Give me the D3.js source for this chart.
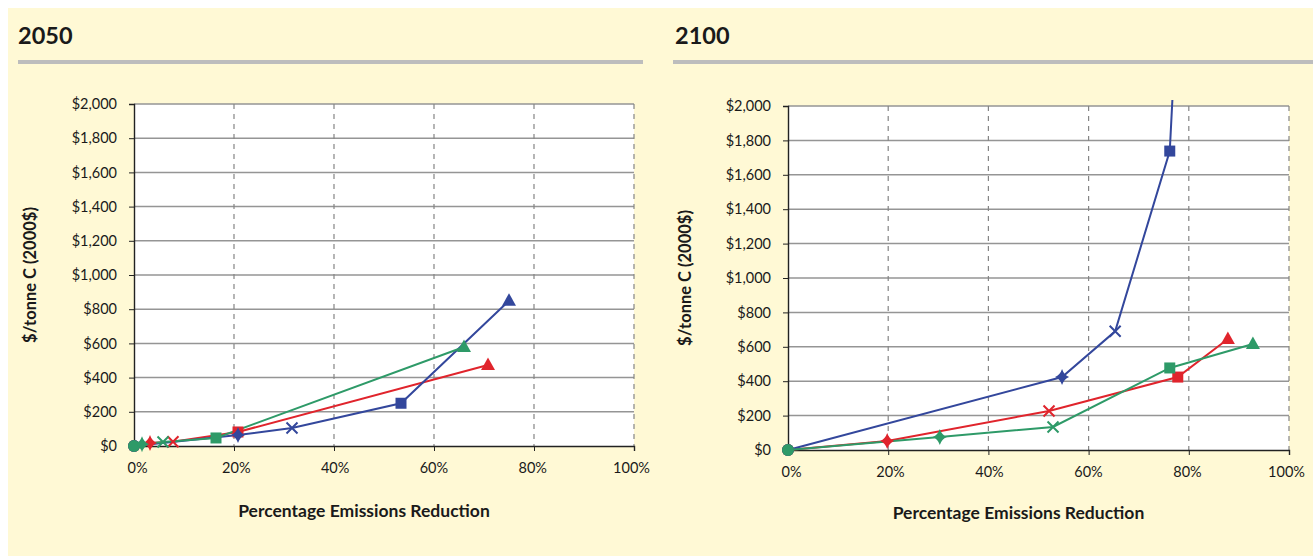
<!DOCTYPE html>
<html><head><meta charset="utf-8">
<script src="https://cdn.jsdelivr.net/npm/d3@7"></script>
<style>body{margin:0;background:#fff}svg{display:block}text{font-family:Lato,"DejaVu Sans",sans-serif;fill:#1a1a1a}</style>
</head><body><svg id="c" width="1313" height="556"></svg>
<script>
// ---- data ----
const panelTitles = ["2050", "2100"];
const markerShapes = ["circle", "diamond", "cross", "square", "triangle"];
const seriesNames = ["blue", "red", "green"];
const seriesColors = ["#33479c", "#e0242c", "#2e9a68"];
const xTicks = [0, 20, 40, 60, 80, 100];
const yTicks = [0, 200, 400, 600, 800, 1000, 1200, 1400, 1600, 1800, 2000];
// 2050
const x2050Blue = [0, 20.8, 31.6, 53.4, 75.0];
const y2050Blue = [0, 64, 105, 250, 850];
const x2050Red = [0, 3.2, 7.8, 20.8, 70.8];
const y2050Red = [0, 17, 25, 82, 474];
const x2050Green = [0, 1.6, 5.8, 16.4, 66.0];
const y2050Green = [0, 10, 23, 47, 579];
// 2100
const x2100Blue = [0, 54.7, 65.3, 76.2, 77.1];
const y2100Blue = [0, 424, 690, 1738, 2250];
const x2100Red = [0, 19.8, 52.1, 77.8, 87.8];
const y2100Red = [0, 52, 227, 424, 645];
const x2100Green = [0, 30.3, 52.9, 76.2, 92.8];
const y2100Green = [0, 76, 134, 477, 616];

const panelX = [[x2050Blue, x2050Red, x2050Green], [x2100Blue, x2100Red, x2100Green]];
const panelY = [[y2050Blue, y2050Red, y2050Green], [y2100Blue, y2100Red, y2100Green]];

// ---- layout ----
const layouts = [
  {x0: 134, x1: 634, yT: 104, yB: 446, titleX: 18, ruleX0: 18, ruleX1: 643, yTitleX: 36, xLabY: 481, xTitleY: 517},
  {x0: 788, x1: 1289, yT: 106, yB: 450, titleX: 675, ruleX0: 673, ruleX1: 1313, yTitleX: 691, xLabY: 483, xTitleY: 519}
];

const svg = d3.select("#c");
svg.append("rect").attr("x", 8).attr("y", 8).attr("width", 1305).attr("height", 548).attr("fill", "#fff9d5");
const defs = svg.append("defs");

const drawOrder = [1, 0, 2]; // red, blue, green

layouts.forEach((L, pi) => {
  const g = svg.append("g");
  g.append("text").attr("x", L.titleX).attr("y", 44).attr("font-size", 23.5).attr("font-weight", 700).text(panelTitles[pi]);
  g.append("rect").attr("x", L.ruleX0).attr("y", 60).attr("width", L.ruleX1 - L.ruleX0).attr("height", 4).attr("fill", "#bdbdbd");

  const x = d3.scaleLinear().domain([0, 100]).range([L.x0, L.x1]);
  const y = d3.scaleLinear().domain([0, 2000]).range([L.yB, L.yT]);

  g.append("rect").attr("x", L.x0).attr("y", L.yT).attr("width", L.x1 - L.x0).attr("height", L.yB - L.yT).attr("fill", "#fff");

  // horizontal gridlines
  g.append("g").selectAll("line").data(yTicks.filter(d => d > 0)).join("line")
    .attr("x1", L.x0).attr("x2", L.x1).attr("y1", d => y(d)).attr("y2", d => y(d))
    .attr("stroke", "#959595").attr("stroke-width", 1.5);
  // vertical dashed gridlines
  g.append("g").selectAll("line").data(xTicks.filter(d => d > 0)).join("line")
    .attr("x1", d => x(d)).attr("x2", d => x(d)).attr("y1", L.yT).attr("y2", L.yB)
    .attr("stroke", "#858585").attr("stroke-width", 1.2).attr("stroke-dasharray", "5,5");

  // axes
  const yAxis = d3.axisLeft(y).tickValues(yTicks).tickSize(5).tickPadding(12)
    .tickFormat(d => "$" + d3.format(",")(d));
  const ya = g.append("g").attr("transform", `translate(${L.x0},0)`).call(yAxis);
  ya.select(".domain").attr("stroke", "#222").attr("stroke-width", 1.4);
  ya.selectAll(".tick line").attr("stroke", "#222");
  ya.selectAll("text").attr("font-size", 14.5).attr("font-family", "Lato, sans-serif").attr("fill", "#1a1a1a");

  const xAxis = d3.axisBottom(x).tickValues(xTicks).tickSize(5).tickPadding(12).tickFormat(d => d + "%");
  const xa = g.append("g").attr("transform", `translate(0,${L.yB})`).call(xAxis);
  xa.select(".domain").attr("stroke", "#222").attr("stroke-width", 1.4);
  xa.selectAll(".tick line").attr("stroke", "#222");
  xa.selectAll("text").attr("font-size", 14.5).attr("font-family", "Lato, sans-serif").attr("fill", "#1a1a1a")
    .attr("dx", (d) => (50 - d) * 0.06);

  // titles
  g.append("text").attr("x", (L.x0 + L.x1) / 2 - 20).attr("y", L.xTitleY).attr("text-anchor", "middle")
    .attr("font-size", 17.5).attr("font-weight", 700).text("Percentage Emissions Reduction");
  g.append("text").attr("transform", `translate(${L.yTitleX},${(L.yT + L.yB) / 2}) rotate(-90)`)
    .attr("text-anchor", "middle").attr("font-size", 16.5).attr("font-weight", 700).text("$/tonne C (2000$)");

  // clip
  const cid = "clip" + pi;
  defs.append("clipPath").attr("id", cid).append("rect")
    .attr("x", L.x0 - 10).attr("y", L.yT - 6).attr("width", L.x1 - L.x0 + 20).attr("height", L.yB - L.yT + 16);

  const plot = g.append("g").attr("clip-path", `url(#${cid})`);
  const line = d3.line().x(d => x(d[0])).y(d => y(d[1]));

  drawOrder.forEach(si => {
    const pts = panelX[pi][si].map((v, i) => [v, panelY[pi][si][i]]);
    plot.append("path").datum(pts).attr("d", line).attr("fill", "none")
      .attr("stroke", seriesColors[si]).attr("stroke-width", 2);
  });
  const markG = g.append("g").attr("clip-path", `url(#${cid})`);
  drawOrder.forEach(si => {
    const col = seriesColors[si];
    panelX[pi][si].forEach((v, i) => {
      const cx = x(v), cy = y(panelY[pi][si][i]);
      if (cy < L.yT - 2) return;
      const shape = markerShapes[i];
      if (shape === "circle") {
        markG.append("circle").attr("cx", cx).attr("cy", cy).attr("r", 6).attr("fill", col);
      } else if (shape === "diamond") {
        markG.append("path").attr("d", `M${cx},${cy-8}Q${cx+2},${cy-2} ${cx+7},${cy}Q${cx+2},${cy+2} ${cx},${cy+8}Q${cx-2},${cy+2} ${cx-7},${cy}Q${cx-2},${cy-2} ${cx},${cy-8}Z`).attr("fill", col);
      } else if (shape === "cross") {
        markG.append("path").attr("d", `M${cx-5.5},${cy-5.5}L${cx+5.5},${cy+5.5}M${cx-5.5},${cy+5.5}L${cx+5.5},${cy-5.5}`)
          .attr("stroke", col).attr("stroke-width", 2).attr("fill", "none");
      } else if (shape === "square") {
        markG.append("rect").attr("x", cx - 5.5).attr("y", cy - 5.5).attr("width", 11).attr("height", 11).attr("fill", col);
      } else if (shape === "triangle") {
        markG.append("path").attr("d", `M${cx},${cy-7.5}L${cx+7},${cy+5}L${cx-7},${cy+5}Z`).attr("fill", col);
      }
    });
  });
});
</script></body></html>
